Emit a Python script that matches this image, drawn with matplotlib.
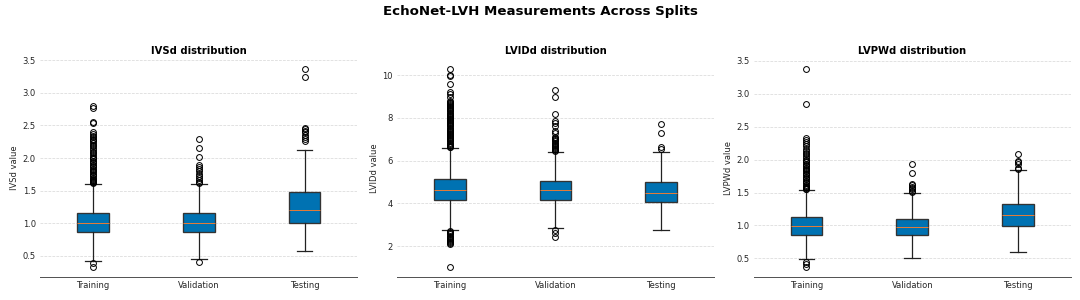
import matplotlib
matplotlib.use("Agg")
import matplotlib.pyplot as plt

splits = ["Training", "Validation", "Testing"]
measures = ["IVSd", "LVIDd", "LVPWd"]

# per measure: [Training, Validation, Testing]
ivsd_q1 = [0.87, 0.87, 1.01]
ivsd_med = [1.01, 1.00, 1.20]
ivsd_q3 = [1.16, 1.16, 1.475]
ivsd_lo = [0.42, 0.45, 0.58]
ivsd_hi = [1.61, 1.60, 2.13]
ivsd_fliers = [
    [1.62, 1.63, 1.64, 1.65, 1.66, 1.67, 1.68, 1.70, 1.72, 1.74, 1.76, 1.78, 1.80,
     1.82, 1.84, 1.86, 1.88, 1.90, 1.92, 1.94, 1.96, 1.98, 2.00, 2.02, 2.05, 2.08,
     2.10, 2.12, 2.15, 2.18, 2.20, 2.23, 2.26, 2.28, 2.30, 2.32, 2.34, 2.37, 2.40,
     2.53, 2.55, 2.76, 2.80, 0.39, 0.33],
    [1.62, 1.64, 1.66, 1.70, 1.73, 1.75, 1.80, 1.83, 1.87, 1.90, 2.01, 2.16, 2.30, 0.40],
    [2.26, 2.30, 2.33, 2.36, 2.40, 2.42, 2.44, 2.46, 3.25, 3.37],
]

lvidd_q1 = [4.16, 4.18, 4.05]
lvidd_med = [4.61, 4.61, 4.47]
lvidd_q3 = [5.13, 5.06, 5.01]
lvidd_lo = [2.74, 2.83, 2.75]
lvidd_hi = [6.59, 6.42, 6.41]
lvidd_fliers = [
    [6.62, 6.65, 6.70, 6.75, 6.80, 6.85, 6.90, 6.95, 7.00, 7.05, 7.10, 7.15, 7.20,
     7.25, 7.30, 7.35, 7.40, 7.45, 7.50, 7.55, 7.60, 7.65, 7.70, 7.75, 7.80, 7.85,
     7.90, 7.95, 8.00, 8.05, 8.10, 8.15, 8.20, 8.25, 8.30, 8.35, 8.40, 8.45, 8.50,
     8.55, 8.60, 8.65, 8.70, 8.75, 8.80, 9.00, 9.10, 9.20, 9.60, 9.95, 10.00, 10.30,
     2.70, 2.65, 2.60, 2.55, 2.50, 2.45, 2.40, 2.35, 2.30, 2.25, 2.20, 2.15, 2.10, 1.03],
    [6.45, 6.50, 6.55, 6.60, 6.65, 6.70, 6.75, 6.80, 6.85, 6.90, 6.95, 7.00, 7.05,
     7.10, 7.30, 7.40, 7.60, 7.75, 7.85, 8.20, 9.00, 9.30, 2.75, 2.60, 2.45],
    [6.55, 6.65, 7.30, 7.70],
]

lvpwd_q1 = [0.86, 0.86, 0.99]
lvpwd_med = [0.985, 0.98, 1.155]
lvpwd_q3 = [1.13, 1.10, 1.33]
lvpwd_lo = [0.49, 0.505, 0.605]
lvpwd_hi = [1.535, 1.495, 1.84]
lvpwd_fliers = [
    [1.55, 1.56, 1.57, 1.58, 1.59, 1.60, 1.62, 1.64, 1.66, 1.68, 1.70, 1.72, 1.74,
     1.76, 1.78, 1.80, 1.82, 1.84, 1.86, 1.88, 1.90, 1.92, 1.94, 1.96, 1.98, 2.00,
     2.02, 2.05, 2.08, 2.10, 2.13, 2.16, 2.20, 2.23, 2.26, 2.30, 2.33, 2.85, 3.38,
     0.45, 0.42, 0.37],
    [1.51, 1.53, 1.55, 1.57, 1.59, 1.61, 1.63, 1.80, 1.94],
    [1.86, 1.88, 1.93, 1.96, 1.98, 2.09],
]

panels = [
    (ivsd_q1, ivsd_med, ivsd_q3, ivsd_lo, ivsd_hi, ivsd_fliers),
    (lvidd_q1, lvidd_med, lvidd_q3, lvidd_lo, lvidd_hi, lvidd_fliers),
    (lvpwd_q1, lvpwd_med, lvpwd_q3, lvpwd_lo, lvpwd_hi, lvpwd_fliers),
]

fig, axes = plt.subplots(1, 3, figsize=(18, 5), dpi=60)
fig.subplots_adjust(left=0.037, right=0.9917, bottom=0.077, top=0.804, wspace=0.124)

box_color = "#0072B2"
for ax, name, (q1, med, q3, lo, hi, fl) in zip(axes, measures, panels):
    stats = []
    for i, lab in enumerate(splits):
        stats.append(dict(label=lab, q1=q1[i], med=med[i], q3=q3[i],
                          whislo=lo[i], whishi=hi[i], fliers=fl[i]))
    ax.bxp(stats, patch_artist=True,
           boxprops=dict(facecolor=box_color, edgecolor="#333333", linewidth=1.6),
           medianprops=dict(color="#e07b39", linewidth=1.2),
           whiskerprops=dict(color="#222222", linewidth=1.5),
           capprops=dict(color="#222222", linewidth=1.5),
           flierprops=dict(marker="o", markerfacecolor="none",
                           markeredgecolor="black", markersize=7,
                           markeredgewidth=1.2))
    ax.set_title(f"{name} distribution", fontsize=12, fontweight="bold", pad=6)
    ax.set_ylabel(f"{name} value", fontsize=10, color="#262626")
    ax.yaxis.grid(True, linestyle="--", color="#d9d9d9", linewidth=0.9)
    ax.set_axisbelow(True)
    for s in ("top", "right", "left"):
        ax.spines[s].set_visible(False)
    ax.spines["bottom"].set_color("#555555")
    ax.spines["bottom"].set_linewidth(1.2)
    ax.tick_params(axis="both", length=0, labelsize=10, labelcolor="#262626", pad=5)

fig.suptitle("EchoNet-LVH Measurements Across Splits", fontsize=16, fontweight="bold", y=0.985)
fig.savefig("out.png", dpi=60)
